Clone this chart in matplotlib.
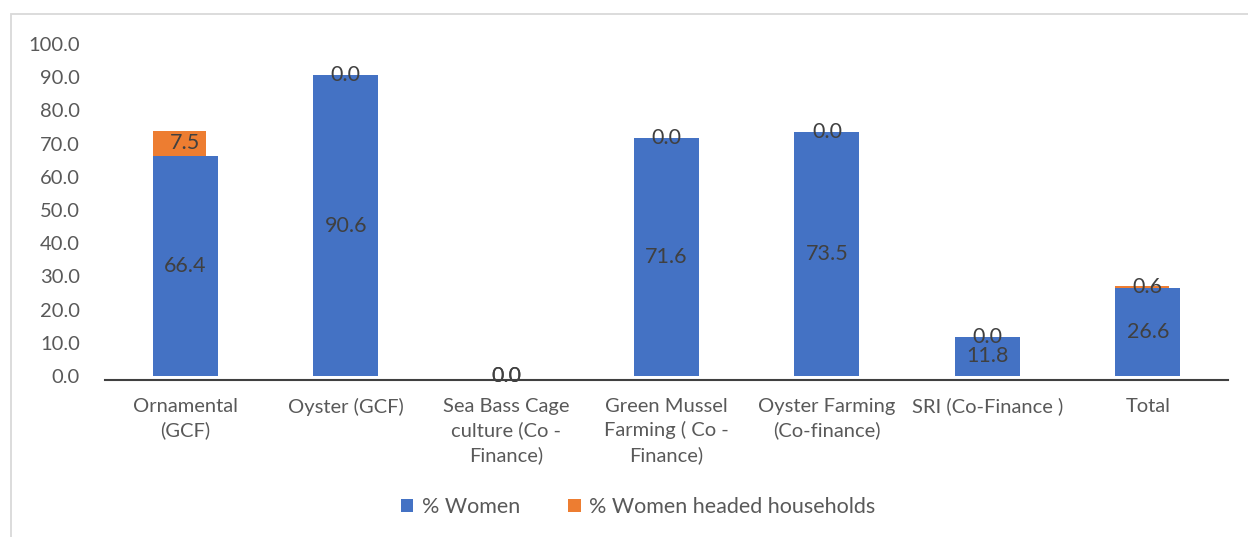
import matplotlib.pyplot as plt
import matplotlib.transforms as mtransforms
import numpy as np
from matplotlib.patches import Rectangle

categories = [
    "Ornamental\n(GCF)",
    "Oyster (GCF)",
    "Sea Bass Cage\nculture (Co -\nFinance)",
    "Green Mussel\nFarming ( Co -\nFinance)",
    "Oyster Farming\n(Co-finance)",
    "SRI (Co-Finance )",
    "Total",
]
women = [66.4, 90.6, 0.0, 71.6, 73.5, 11.8, 26.6]
women_headed = [7.5, 0.0, 0.0, 0.0, 0.0, 0.0, 0.6]
y_ticks = [0, 10, 20, 30, 40, 50, 60, 70, 80, 90, 100]

BLUE = "#4472C4"
ORANGE = "#ED7D31"
TEXT = "#595959"
LABEL = "#404040"

plt.rcParams["font.family"] = ["Lato", "DejaVu Sans"]

fig = plt.figure(figsize=(12.48, 5.37), dpi=100)
ax = fig.add_axes([105 / 1248, 1 - 376 / 537, 1123 / 1248, 332 / 537])

# chart frame
fig.patches.append(
    Rectangle((11 / 1248, -0.05), 1.1, 1 - 14 / 537 + 0.05,
              transform=fig.transFigure, fill=False,
              edgecolor="#D9D9D9", linewidth=1.3)
)

x = np.arange(len(categories))
width = 0.405
ax.bar(x, women, width, color=BLUE, label="% Women")
# the orange segment is drawn a bit narrower, left-aligned with blue
ax.bar(x - width / 2, women_headed, 0.335, bottom=women, align="edge",
       color=ORANGE, label="% Women headed households")

for i in range(len(categories)):
    ax.text(x[i], women[i] / 2, f"{women[i]:.1f}", ha="center", va="center",
            fontsize=15.5, color=LABEL)
    ax.text(x[i], women[i] + women_headed[i] / 2, f"{women_headed[i]:.1f}",
            ha="center", va="center", fontsize=15.5, color=LABEL)

ax.set_xlim(-0.5, len(categories) - 0.5)
ax.set_ylim(0, 100)
ax.set_yticks(y_ticks)
ax.set_yticklabels([f"{v:.1f}" for v in y_ticks])
ax.set_xticks(x)
ax.set_xticklabels([])

# category labels drawn by hand to get Excel-like line spacing
trans = mtransforms.blended_transform_factory(ax.transData, ax.transAxes)
for i, name in enumerate(categories):
    ax.text(x[i], -0.065, name, transform=trans, ha="center", va="top",
            fontsize=14.5, color=TEXT, linespacing=1.45)

for side in ["top", "right", "left"]:
    ax.spines[side].set_visible(False)
ax.spines["bottom"].set_color("#404040")
ax.spines["bottom"].set_linewidth(1.5)
ax.spines["bottom"].set_position(("data", -1.2))

ax.tick_params(axis="y", length=0, labelsize=14.5, labelcolor=TEXT, pad=18)
ax.tick_params(axis="x", length=0)

fig.legend(loc="center", bbox_to_anchor=(638 / 1248, 1 - 507 / 537), ncol=2,
           frameon=False, fontsize=15.5, labelcolor=TEXT, handlelength=0.6,
           handleheight=0.6, columnspacing=2.2, handletextpad=0.4)

fig.savefig("out.png", dpi=100)
